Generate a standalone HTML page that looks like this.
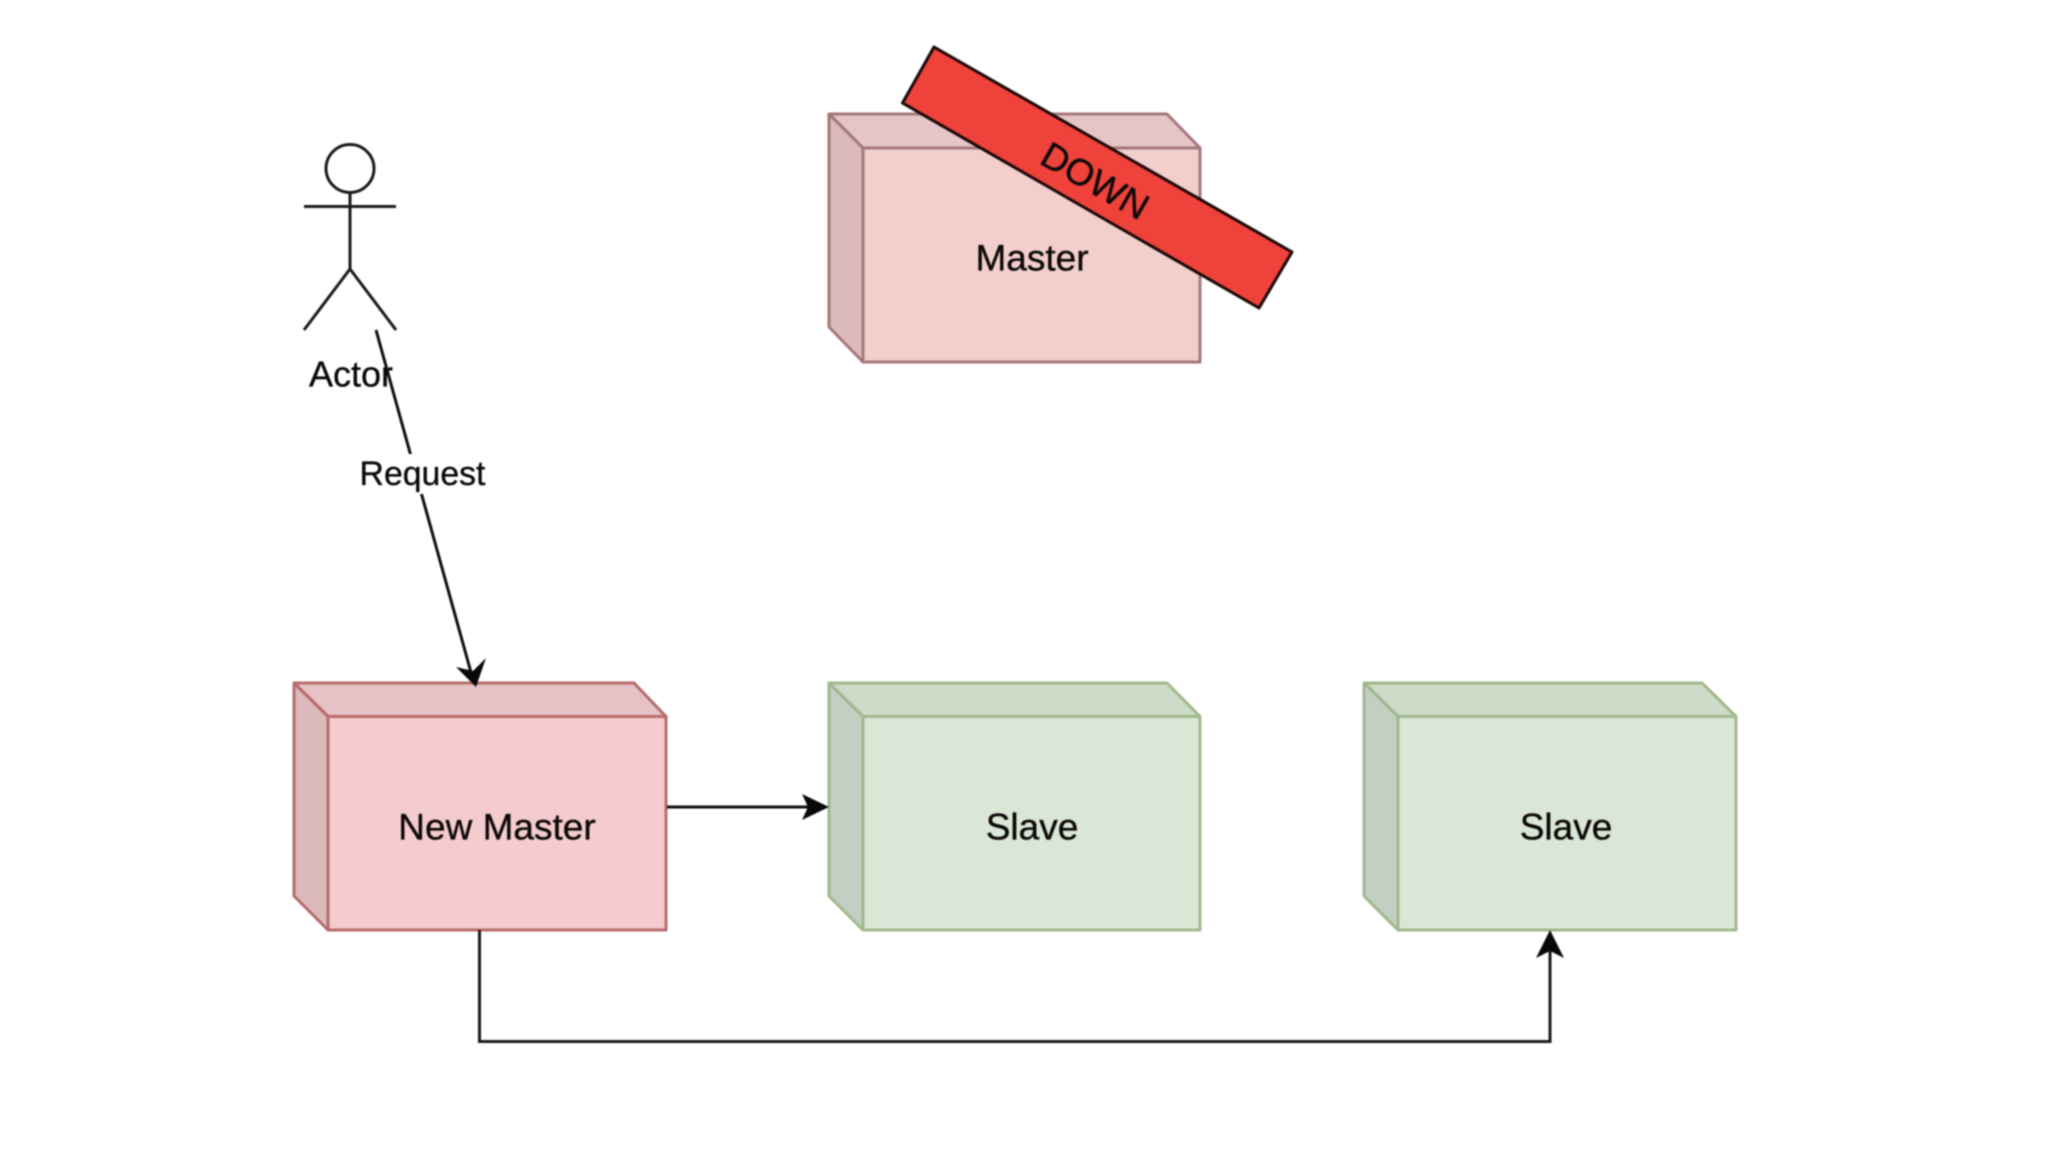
<!DOCTYPE html>
<html><head><meta charset="utf-8"><style>
html,body{margin:0;padding:0;background:#fff;width:2048px;height:1152px;overflow:hidden}
svg{display:block;filter:blur(.8px)}
text{font-family:"Liberation Sans",Arial,sans-serif;fill:#0c0808;stroke:#0c0808;stroke-width:.35;text-anchor:middle;dominant-baseline:central}
</style></head><body>
<svg width="2048" height="1152" viewBox="0 0 2048 1152" xmlns="http://www.w3.org/2000/svg">
<rect width="2048" height="1152" fill="#fff"/>
<!-- Master -->
<g stroke="#a5777a" stroke-width="3" stroke-linejoin="round">
<polygon points="829,114 1167,114 1200,148 863,148" fill="#e5c6c6"/>
<polygon points="829,114 863,148 863,362 829,327" fill="#dcbaba"/>
<rect x="863" y="148" width="337" height="214" fill="#f2cfcd"/>
</g>
<text x="1032" y="258" font-size="37">Master</text>
<!-- New Master -->
<g stroke="#b56c6a" stroke-width="3" stroke-linejoin="round">
<polygon points="294,683 634,683 666,716.5 328,716.5" fill="#e6c1c5"/>
<polygon points="294,683 328,716.5 328,930 294,896" fill="#dcb9ba"/>
<rect x="328" y="716.5" width="338" height="213.5" fill="#f4cccd"/>
</g>
<text x="497" y="827" font-size="37">New Master</text>
<!-- Slave 1 -->
<g stroke="#a0b88d" stroke-width="3" stroke-linejoin="round">
<polygon points="829,683 1167,683 1200,716.5 863,716.5" fill="#cddbc8"/>
<polygon points="829,683 863,716.5 863,930 829,896" fill="#c2d0c4"/>
<rect x="863" y="716.5" width="337" height="213.5" fill="#dbe7d6"/>
</g>
<text x="1032" y="827" font-size="37">Slave</text>
<!-- Slave 2 -->
<g stroke="#a0b88d" stroke-width="3" stroke-linejoin="round">
<polygon points="1364,683 1702,683 1736,716.5 1398,716.5" fill="#cddbc8"/>
<polygon points="1364,683 1398,716.5 1398,930 1364,896" fill="#c2d0c4"/>
<rect x="1398" y="716.5" width="338" height="213.5" fill="#dbe7d6"/>
</g>
<text x="1566" y="827" font-size="37">Slave</text>
<!-- Banner -->
<polygon points="934,47 1292,252 1259,308 902.5,103" fill="#ee423a" stroke="#1a0808" stroke-width="3" stroke-linejoin="round"/>
<text x="1095" y="181" font-size="37" transform="rotate(29.8 1095 181)">DOWN</text>
<!-- Actor -->
<g fill="none" stroke="#1a1a1a" stroke-width="3">
<circle cx="350" cy="168.5" r="24"/>
<path d="M350 192.5V269M304 206.5H396M304 330L350 269L396 330"/>
</g>
<text x="351" y="374" font-size="36">Actor</text>
<!-- Request connector -->
<line x1="376" y1="330" x2="472" y2="676" stroke="#0f0f0f" stroke-width="3"/>
<polygon points="476,687 456,667 473,671 486,658" fill="#080808"/>
<rect x="358" y="454" width="128" height="40" fill="#fff"/>
<text x="422.500" y="474" font-size="33.800">Request</text>
<!-- Horizontal arrow -->
<line x1="667" y1="807" x2="815" y2="807" stroke="#0f0f0f" stroke-width="3"/>
<polygon points="829,807 802,794 808,807 802,820" fill="#080808"/>
<!-- Bottom connector -->
<path d="M479.5 930V1041.500H1550V945" fill="none" stroke="#1a1a1a" stroke-width="3"/>
<polygon points="1550,930 1536,958 1550,951 1564,958" fill="#080808"/>
</svg>
</body></html>
